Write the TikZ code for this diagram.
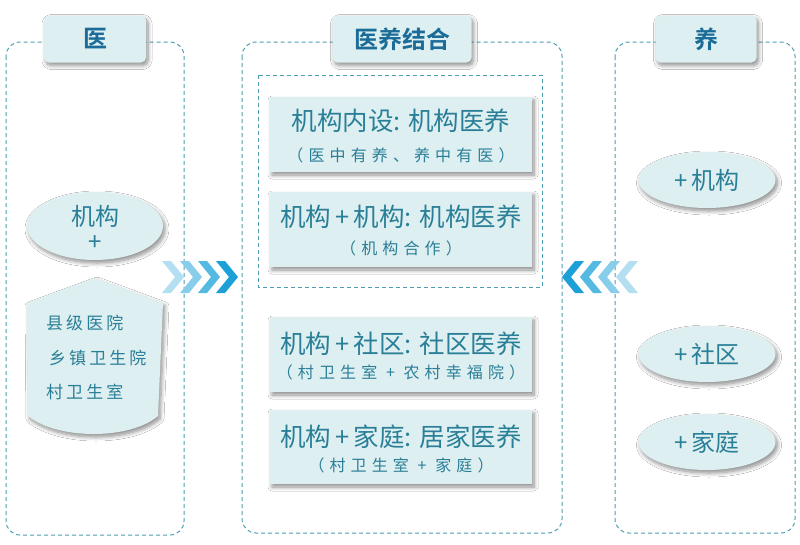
\documentclass[tikz,border=0pt]{standalone}
\usepackage{fontspec}
\usetikzlibrary{shadows.blur,shapes.geometric}
\newfontfamily\cjk{Noto Sans CJK SC}
\newfontfamily\cjkb{Noto Sans CJK SC Bold}
\newfontfamily\cjksp[LetterSpace=32]{Noto Sans CJK SC}
\newfontfamily\cjkls[LetterSpace=18]{Noto Sans CJK SC}
\definecolor{boxfill}{HTML}{DDEFF0}
\definecolor{dashcol}{HTML}{4A9FB2}
\definecolor{txtcol}{HTML}{2A7F98}
\definecolor{titcol}{HTML}{1B6C98}
\definecolor{chA}{HTML}{B3DFF0}
\definecolor{chB}{HTML}{88CEEA}
\definecolor{chC}{HTML}{55BAE2}
\definecolor{chD}{HTML}{1DA0D7}
\tikzset{
  panel/.style={draw=dashcol, line width=1pt, dash pattern=on 4pt off 3pt, rounded corners=14pt},
  shad/.style={blur shadow={shadow xshift=2pt, shadow yshift=-3pt, shadow blur steps=8, shadow blur radius=4pt, shadow opacity=45}},
  titlebox/.style={fill=boxfill, rounded corners=5pt, shad, inner sep=0pt, text=titcol, font=\cjkb\fontsize{24}{28}\selectfont},
  combox/.style={fill=boxfill, shad, inner sep=0pt, minimum width=262pt},
  bigtxt/.style={text=txtcol, inner sep=0pt, font=\cjk\fontsize{25.5}{30}\selectfont},
  subtxt/.style={text=txtcol, inner sep=0pt, font=\cjksp\fontsize{16}{19}\selectfont},
  ell/.style={ellipse, fill=boxfill, shad, inner sep=0pt, text=txtcol, font=\cjk\fontsize{24}{28}\selectfont},
  listtxt/.style={text=txtcol, inner sep=0pt, anchor=west, font=\cjkls\fontsize{17}{20}\selectfont},
}
\begin{document}
\begin{tikzpicture}[x=1pt,y=-1pt]
\useasboundingbox (0,0) rectangle (800,544);
\fill[white] (0,0) rectangle (800,544);
% panels
\draw[panel] (6,42) rectangle (184,535);
\draw[panel] (242,42) rectangle (562,533);
\draw[panel] (615,42) rectangle (795,533);
\draw[draw=dashcol, line width=1pt, dash pattern=on 4pt off 3pt] (258,75) rectangle (542,287);
% titles
\node[titlebox, minimum width=102pt, minimum height=47pt] (tyi) at (95,39) {医};
\node[titlebox, minimum width=139pt, minimum height=47pt] (tmid) at (402,39) {医养结合};
\node[titlebox, minimum width=101pt, minimum height=47pt] (tyang) at (706,39) {养};
% left column
\node[ell, minimum width=136pt, minimum height=68pt] (eleft) at (95,226) {};
\node[text=txtcol, inner sep=0pt, font=\cjk\fontsize{24}{28}\selectfont] (ljg) at (95,216) {机构};
\node[text=txtcol, inner sep=0pt, font=\cjk\fontsize{24}{28}\selectfont] (lplus) at (95,243) {+};
\path[fill=boxfill, shad] (27,303) -- (95,278) -- (163,303) -- (158,416)
  .. controls (130,440) and (58,440) .. (28,416) -- cycle;
\coordinate (house) at (95,360);
\node[listtxt] (l1) at (46,323) {县级医院};
\node[listtxt] (l2) at (49,358) {乡镇卫生院};
\node[listtxt] (l3) at (46,392) {村卫生室};
% middle boxes
\node[combox, minimum height=75pt] (b1) at (401,134.5) {};
\node[bigtxt] (b1a) at (401,121) {机构内设: 机构医养};
\node[subtxt] (b1b) at (401,155) {（医中有养、养中有医）};
\node[combox, minimum height=75pt] (b2) at (401,229.5) {};
\node[bigtxt] (b2a) at (401,217) {机构\,+\,机构: 机构医养};
\node[subtxt] (b2b) at (401,248) {（机构合作）};
\node[combox, minimum height=75pt] (b3) at (401,354.5) {};
\node[bigtxt] (b3a) at (401,344) {机构\,+\,社区: 社区医养};
\node[subtxt] (b3b) at (401,372) {（村卫生室 + 农村幸福院）};
\node[combox, minimum height=74pt] (b4) at (401,447) {};
\node[bigtxt] (b4a) at (401,437) {机构\,+\,家庭: 居家医养};
\node[subtxt] (b4b) at (401,465) {（村卫生室 + 家庭）};
% right ellipses
\node[ell, minimum width=137pt, minimum height=56pt] (r1) at (707,180) {+\,机构};
\node[ell, minimum width=137pt, minimum height=56pt] (r2) at (707,354) {+\,社区};
\node[ell, minimum width=137pt, minimum height=56pt] (r3) at (707,442) {+\,家庭};
% chevrons left (pointing right)
\foreach \i/\c in {0/chA,1/chB,2/chC,3/chD}{
  \pgfmathsetmacro{\xo}{162+18*\i}
  \fill[\c] (\xo,261) -- (\xo+9,261) -- (\xo+22,277) -- (\xo+9,293) -- (\xo,293) -- (\xo+13,277) -- cycle;
}
% chevrons right (pointing left)
\foreach \i/\c in {0/chD,1/chC,2/chB,3/chA}{
  \pgfmathsetmacro{\xo}{562+18*\i}
  \fill[\c] (\xo,277) -- (\xo+13,261) -- (\xo+22,261) -- (\xo+9,277) -- (\xo+22,293) -- (\xo+13,293) -- cycle;
}
\end{tikzpicture}
\end{document}
